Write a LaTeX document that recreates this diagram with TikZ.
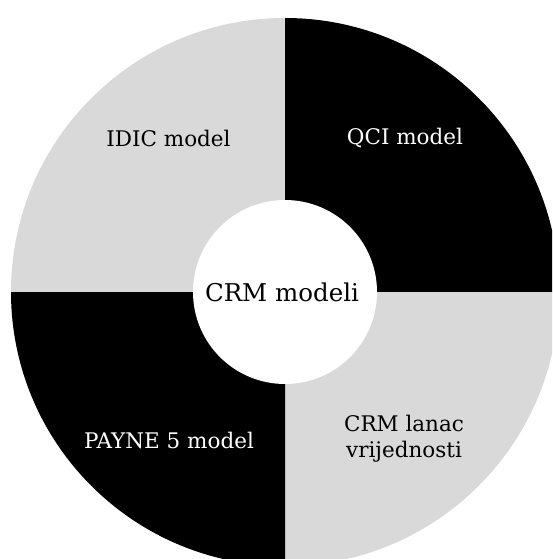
\documentclass[tikz,border=0pt]{standalone}
\usepackage{fontspec}
\setmainfont{DejaVu Serif}
\definecolor{segGrey}{HTML}{D9D9D9}
\tikzset{
  lbl/.style={font=\fontsize{21.5}{26}\selectfont, align=center, inner sep=0pt},
  center/.style={font=\fontsize{24.5}{29}\selectfont, inner sep=0pt}
}
\begin{document}
\begin{tikzpicture}[x=1pt,y=-1pt]
\useasboundingbox (0,0) rectangle (552,559);
\begin{scope}
\clip (0,0) rectangle (552,559);
\coordinate (c) at (285,292);
\fill[segGrey] (c) -- ++(-274,0) arc[start angle=180,end angle=270,radius=274] -- cycle;
\fill[black] (c) -- ++(0,-274) arc[start angle=270,end angle=360,radius=274] -- cycle;
\fill[segGrey] (c) -- ++(274,0) arc[start angle=0,end angle=90,radius=274] -- cycle;
\fill[black] (c) -- ++(0,274) arc[start angle=90,end angle=180,radius=274] -- cycle;
\fill[white] (c) circle[radius=92];
\end{scope}
\node[lbl, text=black] (idic) at (168.5,138) {IDIC model};
\node[lbl, text=white] (qci) at (405,138) {QCI model};
\node[center, text=black] (crm) at (282,292) {CRM modeli};
\node[lbl, text=white] (payne) at (169,440) {PAYNE 5 model};
\node[lbl, text=black] (lanac) at (404,439) {CRM lanac\\vrijednosti};
\end{tikzpicture}
\end{document}
